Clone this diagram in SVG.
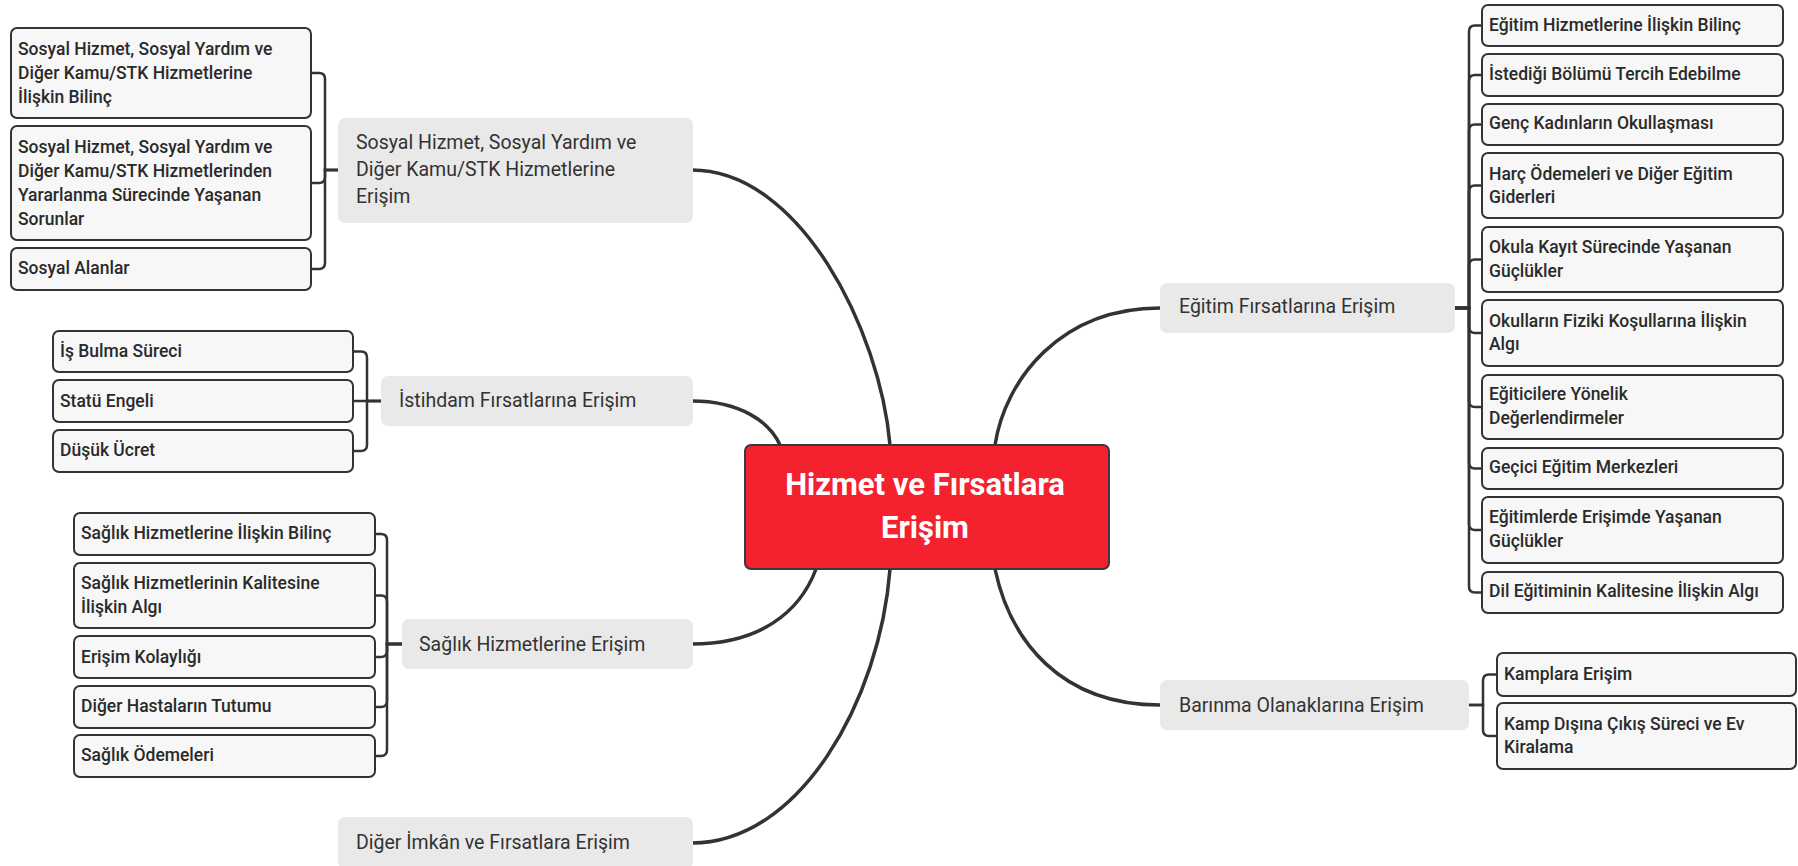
<svg xmlns="http://www.w3.org/2000/svg" width="1798" height="866" viewBox="0 0 1798 866">
<style>
.sub rect{fill:#F7F7F7;stroke:#333;stroke-width:2}
.sub text{font-family:Roboto,"Liberation Sans",sans-serif;font-size:17.5px;font-weight:500;fill:#2a2a2a}
.topic rect{fill:#E9E9E9}
.topic text{font-family:Roboto,"Liberation Sans",sans-serif;font-size:19.5px;font-weight:400;fill:#333}
.main rect{fill:#F4212F;stroke:#3a3a3a;stroke-width:2}
.main text{font-family:Roboto,"Liberation Sans",sans-serif;font-size:31px;font-weight:700;fill:#fff;text-anchor:middle}
.curve{fill:none;stroke:#333;stroke-width:3.5;stroke-linecap:round}
.br{fill:none;stroke:#333;stroke-width:2.5}
</style>
<rect width="1798" height="866" fill="#fff"/>
<g id="connectors">
<path class="curve" d="M692,170 C800,170 880,330 890,445"/>
<path class="curve" d="M692,401 C740,401 770,422 780,445"/>
<path class="curve" d="M692,644 C760,644 800,612 816,569"/>
<path class="curve" d="M692,843 C800,843 880,700 890,569"/>
<path class="curve" d="M1160,308 C1060,308 1005,380 995,445"/>
<path class="curve" d="M1160,705 C1060,705 1010,640 995,569"/>
<path class="br" d="M338,170 H325 V79 Q325,73 319,73 H311"/>
<path class="br" d="M338,170 H325 V177 Q325,183 319,183 H311"/>
<path class="br" d="M338,170 H325 V263 Q325,269 319,269 H311"/>
<path class="br" d="M381,401 H367 V357.5 Q367,351.5 361,351.5 H353"/>
<path class="br" d="M381,401 H353"/>
<path class="br" d="M381,401 H367 V445 Q367,451 361,451 H353"/>
<path class="br" d="M402,644 H387 V540 Q387,534 381,534 H375"/>
<path class="br" d="M402,644 H387 V601.5 Q387,595.5 381,595.5 H375"/>
<path class="br" d="M402,644 H387 V651 Q387,657 381,657 H375"/>
<path class="br" d="M402,644 H387 V701 Q387,707 381,707 H375"/>
<path class="br" d="M402,644 H387 V750 Q387,756 381,756 H375"/>
<path class="br" d="M1455,308 H1469 V31.5 Q1469,25.5 1475,25.5 H1482"/>
<path class="br" d="M1455,308 H1469 V81 Q1469,75 1475,75 H1482"/>
<path class="br" d="M1455,308 H1469 V130.5 Q1469,124.5 1475,124.5 H1482"/>
<path class="br" d="M1455,308 H1469 V191.5 Q1469,185.5 1475,185.5 H1482"/>
<path class="br" d="M1455,308 H1469 V265.5 Q1469,259.5 1475,259.5 H1482"/>
<path class="br" d="M1455,308 H1469 V327 Q1469,333 1475,333 H1482"/>
<path class="br" d="M1455,308 H1469 V401 Q1469,407 1475,407 H1482"/>
<path class="br" d="M1455,308 H1469 V462.5 Q1469,468.5 1475,468.5 H1482"/>
<path class="br" d="M1455,308 H1469 V524 Q1469,530 1475,530 H1482"/>
<path class="br" d="M1455,308 H1469 V586.5 Q1469,592.5 1475,592.5 H1482"/>
<path class="br" d="M1469,705 H1483 V680.5 Q1483,674.5 1489,674.5 H1497"/>
<path class="br" d="M1469,705 H1483 V730 Q1483,736 1489,736 H1497"/>
</g>
<g id="center" class="main">
<rect x="745" y="445" width="364" height="124" rx="6"/>
<text x="925" y="495">Hizmet ve Fırsatlara</text>
<text x="925" y="538">Erişim</text>
</g>
<g id="t-sosyal" class="topic">
<rect x="338" y="118" width="355" height="105" rx="7"/>
<text x="356" y="149">Sosyal Hizmet, Sosyal Yardım ve</text>
<text x="356" y="176">Diğer Kamu/STK Hizmetlerine</text>
<text x="356" y="203">Erişim</text>
</g>
<g id="t-istihdam" class="topic">
<rect x="381" y="376" width="312" height="50" rx="7"/>
<text x="399" y="407">İstihdam Fırsatlarına Erişim</text>
</g>
<g id="t-saglik" class="topic">
<rect x="402" y="619" width="291" height="50" rx="7"/>
<text x="419" y="651">Sağlık Hizmetlerine Erişim</text>
</g>
<g id="t-diger" class="topic">
<rect x="338" y="817" width="355" height="52" rx="7"/>
<text x="356" y="849">Diğer İmkân ve Fırsatlara Erişim</text>
</g>
<g id="t-egitim" class="topic">
<rect x="1160" y="283" width="295" height="50" rx="7"/>
<text x="1179" y="313">Eğitim Fırsatlarına Erişim</text>
</g>
<g id="t-barinma" class="topic">
<rect x="1160" y="680" width="309" height="50" rx="7"/>
<text x="1179" y="712">Barınma Olanaklarına Erişim</text>
</g>
<g id="s-sosyal-1" class="sub">
<rect x="11" y="28" width="300" height="90" rx="6"/>
<text x="18" y="55">Sosyal Hizmet, Sosyal Yardım ve</text>
<text x="18" y="79">Diğer Kamu/STK Hizmetlerine</text>
<text x="18" y="103">İlişkin Bilinç</text>
</g>
<g id="s-sosyal-2" class="sub">
<rect x="11" y="126" width="300" height="114" rx="6"/>
<text x="18" y="153">Sosyal Hizmet, Sosyal Yardım ve</text>
<text x="18" y="177">Diğer Kamu/STK Hizmetlerinden</text>
<text x="18" y="201">Yararlanma Sürecinde Yaşanan</text>
<text x="18" y="225">Sorunlar</text>
</g>
<g id="s-sosyal-3" class="sub">
<rect x="11" y="248" width="300" height="42" rx="6"/>
<text x="18" y="274">Sosyal Alanlar</text>
</g>
<g id="s-istihdam-1" class="sub">
<rect x="53" y="331" width="300" height="41" rx="6"/>
<text x="60" y="357">İş Bulma Süreci</text>
</g>
<g id="s-istihdam-2" class="sub">
<rect x="53" y="380" width="300" height="42" rx="6"/>
<text x="60" y="407">Statü Engeli</text>
</g>
<g id="s-istihdam-3" class="sub">
<rect x="53" y="430" width="300" height="42" rx="6"/>
<text x="60" y="456">Düşük Ücret</text>
</g>
<g id="s-saglik-1" class="sub">
<rect x="74" y="513" width="301" height="42" rx="6"/>
<text x="81" y="539">Sağlık Hizmetlerine İlişkin Bilinç</text>
</g>
<g id="s-saglik-2" class="sub">
<rect x="74" y="563" width="301" height="65" rx="6"/>
<text x="81" y="589">Sağlık Hizmetlerinin Kalitesine</text>
<text x="81" y="613">İlişkin Algı</text>
</g>
<g id="s-saglik-3" class="sub">
<rect x="74" y="636" width="301" height="42" rx="6"/>
<text x="81" y="663">Erişim Kolaylığı</text>
</g>
<g id="s-saglik-4" class="sub">
<rect x="74" y="686" width="301" height="42" rx="6"/>
<text x="81" y="712">Diğer Hastaların Tutumu</text>
</g>
<g id="s-saglik-5" class="sub">
<rect x="74" y="735" width="301" height="42" rx="6"/>
<text x="81" y="761">Sağlık Ödemeleri</text>
</g>
<g id="s-egitim-1" class="sub">
<rect x="1482" y="5" width="301" height="41" rx="6"/>
<text x="1489" y="31">Eğitim Hizmetlerine İlişkin Bilinç</text>
</g>
<g id="s-egitim-2" class="sub">
<rect x="1482" y="54" width="301" height="42" rx="6"/>
<text x="1489" y="80">İstediği Bölümü Tercih Edebilme</text>
</g>
<g id="s-egitim-3" class="sub">
<rect x="1482" y="104" width="301" height="41" rx="6"/>
<text x="1489" y="129">Genç Kadınların Okullaşması</text>
</g>
<g id="s-egitim-4" class="sub">
<rect x="1482" y="153" width="301" height="65" rx="6"/>
<text x="1489" y="180">Harç Ödemeleri ve Diğer Eğitim</text>
<text x="1489" y="203">Giderleri</text>
</g>
<g id="s-egitim-5" class="sub">
<rect x="1482" y="227" width="301" height="65" rx="6"/>
<text x="1489" y="253">Okula Kayıt Sürecinde Yaşanan</text>
<text x="1489" y="277">Güçlükler</text>
</g>
<g id="s-egitim-6" class="sub">
<rect x="1482" y="300" width="301" height="66" rx="6"/>
<text x="1489" y="327">Okulların Fiziki Koşullarına İlişkin</text>
<text x="1489" y="350">Algı</text>
</g>
<g id="s-egitim-7" class="sub">
<rect x="1482" y="375" width="301" height="64" rx="6"/>
<text x="1489" y="400">Eğiticilere Yönelik</text>
<text x="1489" y="424">Değerlendirmeler</text>
</g>
<g id="s-egitim-8" class="sub">
<rect x="1482" y="448" width="301" height="41" rx="6"/>
<text x="1489" y="473">Geçici Eğitim Merkezleri</text>
</g>
<g id="s-egitim-9" class="sub">
<rect x="1482" y="497" width="301" height="66" rx="6"/>
<text x="1489" y="523">Eğitimlerde Erişimde Yaşanan</text>
<text x="1489" y="547">Güçlükler</text>
</g>
<g id="s-egitim-10" class="sub">
<rect x="1482" y="572" width="301" height="41" rx="6"/>
<text x="1489" y="597">Dil Eğitiminin Kalitesine İlişkin Algı</text>
</g>
<g id="s-barinma-1" class="sub">
<rect x="1497" y="653" width="299" height="43" rx="6"/>
<text x="1504" y="680">Kamplara Erişim</text>
</g>
<g id="s-barinma-2" class="sub">
<rect x="1497" y="703" width="299" height="66" rx="6"/>
<text x="1504" y="730">Kamp Dışına Çıkış Süreci ve Ev</text>
<text x="1504" y="753">Kiralama</text>
</g>
</svg>
